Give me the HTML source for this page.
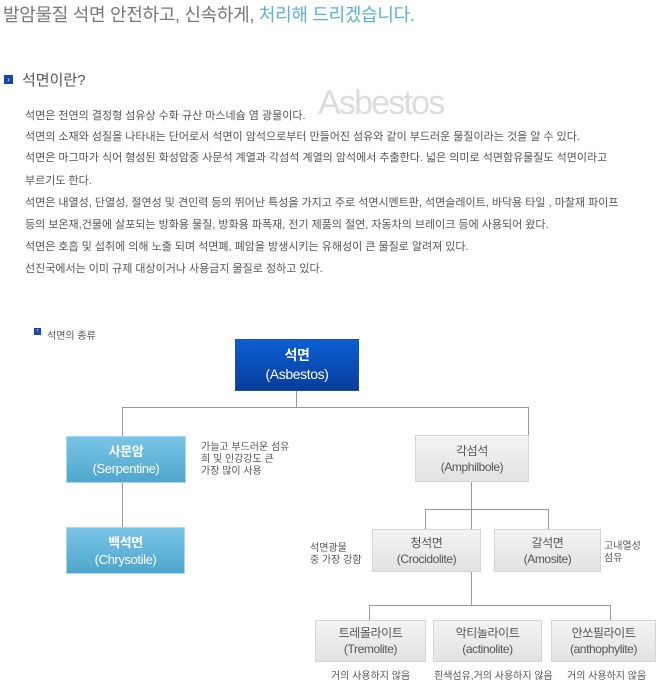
<!DOCTYPE html><html><head><meta charset="utf-8"><style>
body{margin:0;width:660px;height:694px;background:#fff;position:relative;overflow:hidden;font-family:"Liberation Sans","Noto Sans CJK KR",sans-serif;color:#555}
.a{position:absolute;white-space:nowrap}
.p{font-size:11px;color:#555;left:25px}
.box{position:absolute;text-align:center;font-size:12px;line-height:16px;box-sizing:border-box;display:flex;flex-direction:column;justify-content:center;letter-spacing:-0.4px}
.g{background:linear-gradient(#f4f4f4,#e2e2e2);border:1px solid #d4d4d4;color:#555}
.s{background:linear-gradient(#79c4e6,#4fa6cc);border:1px solid #a8d8ee;color:#fff}
.l{position:absolute;background:#999}
.n{font-size:10px;color:#555;line-height:12px}
.ic{position:absolute;background:#1a45a8;color:#fff;font-size:8px;line-height:9px;text-align:center}
</style></head><body>
<div class="a" style="left:3px;top:1px;font-size:18px;color:#777;letter-spacing:-0.3px">발암물질 석면 안전하고, 신속하게, <span style="color:#5ab0d6">처리해 드리겠습니다.</span></div>
<div class="ic" style="left:4px;top:75px;width:9px;height:9px">›</div>
<div class="a" style="left:22px;top:69px;font-size:15px;color:#555">석면이란?</div>
<div class="a" style="left:318px;top:84px;font-size:34px;color:#dcdcdc;letter-spacing:-1.8px">Asbestos</div>
<div class="a p" style="top:107px">석면은 천연의 결정형 섬유상 수화 규산 마스네슘 염 광물이다.</div>
<div class="a p" style="top:128px">석면의 소재와 성질을 나타내는 단어로서 석면이 암석으로부터 만들어진 섬유와 같이 부드러운 물질이라는 것을 알 수 있다.</div>
<div class="a p" style="top:149px">석면은 마그마가 식어 형성된 화성암중 사문석 계열과 각섬석 계열의 암석에서 추출한다. 넓은 의미로 석면함유물질도 석면이라고</div>
<div class="a p" style="top:172px">부르기도 한다.</div>
<div class="a p" style="top:194px">석면은 내열성, 단열성, 절연성 및 견인력 등의 뛰어난 특성을 가지고 주로 석면시멘트판, 석면슬레이트, 바닥용 타일 , 마찰재 파이프</div>
<div class="a p" style="top:216px">등의 보온재,건물에 살포되는 방화용 물질, 방화용 파폭재, 전기 제품의 절연, 자동차의 브레이크 등에 사용되어 왔다.</div>
<div class="a p" style="top:238px">석면은 호흡 및 섭취에 의해 노출 되며  석면폐, 폐암을 방생시키는 유해성이 큰 물질로 알려져 있다.</div>
<div class="a p" style="top:260px">선진국에서는 이미 규제 대상이거나 사용금지 물질로 정하고 있다.</div>
<div class="ic" style="left:34px;top:328px;width:7px;height:7px;font-size:6px;line-height:7px">›</div>
<div class="a" style="left:47px;top:327px;font-size:10px;color:#555">석면의 종류</div>
<div class="l" style="left:296px;top:391px;width:1px;height:16px"></div>
<div class="l" style="left:122px;top:407px;width:407px;height:1px"></div>
<div class="l" style="left:122px;top:407px;width:1px;height:29px"></div>
<div class="l" style="left:528px;top:407px;width:1px;height:28px"></div>
<div class="l" style="left:122px;top:483px;width:1px;height:44px"></div>
<div class="l" style="left:471px;top:482px;width:1px;height:123px"></div>
<div class="l" style="left:425px;top:509px;width:124px;height:1px"></div>
<div class="l" style="left:425px;top:509px;width:1px;height:20px"></div>
<div class="l" style="left:548px;top:509px;width:1px;height:20px"></div>
<div class="l" style="left:369px;top:605px;width:241px;height:1px"></div>
<div class="l" style="left:369px;top:605px;width:1px;height:15px"></div>
<div class="l" style="left:610px;top:605px;width:1px;height:15px"></div>
<div class="box" style="left:235px;top:339px;width:124px;height:52px;background:linear-gradient(#0a5fd6,#0a3d99);border:1px solid #234e9f;color:#fff;font-size:14px;line-height:19px"><b>석면</b><span>(Asbestos)</span></div>
<div class="box s" style="left:66px;top:436px;width:120px;height:47px;font-size:13px;line-height:17px"><b>사문암</b><span>(Serpentine)</span></div>
<div class="box s" style="left:66px;top:527px;width:119px;height:47px;font-size:13px;line-height:17px"><b>백석면</b><span>(Chrysotile)</span></div>
<div class="box g" style="left:415px;top:435px;width:114px;height:47px">각섬석<span>(Amphilbole)</span></div>
<div class="box g" style="left:372px;top:529px;width:109px;height:43px">청석면<span>(Crocidolite)</span></div>
<div class="box g" style="left:494px;top:529px;width:107px;height:43px">갈석면<span>(Amosite)</span></div>
<div class="box g" style="left:315px;top:620px;width:111px;height:42px">트레몰라이트<span>(Tremolite)</span></div>
<div class="box g" style="left:433px;top:620px;width:109px;height:42px">악티놀라이트<span>(actinolite)</span></div>
<div class="box g" style="left:551px;top:620px;width:105px;height:42px">안쏘필라이트<span>(anthophylite)</span></div>
<div class="a n" style="left:201px;top:442px">가늘고 부드러운 섬유<br>희 및 인강강도 큰<br>가장 많이 사용</div>
<div class="a n" style="left:310px;top:543px">석면광물<br>중 가장 강함</div>
<div class="a n" style="left:604px;top:541px">고내열성<br>섬유</div>
<div class="a n" style="left:331px;top:671px">거의 사용하지 않음</div>
<div class="a n" style="left:434px;top:671px">흰색섬유,거의 사용하지 않음</div>
<div class="a n" style="left:567px;top:671px">거의 사용하지 않음</div>
</body></html>
